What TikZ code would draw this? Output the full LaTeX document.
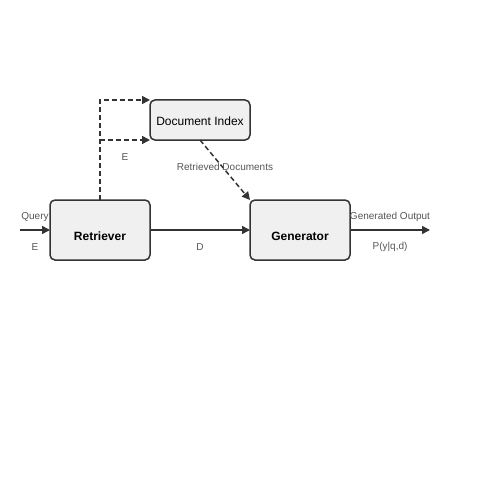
\documentclass[tikz,border=0pt]{standalone}
\usepackage{fontspec}
\setmainfont{Liberation Sans}
\usetikzlibrary{arrows.meta}
\definecolor{boxfill}{HTML}{F0F0F0}
\definecolor{edge}{HTML}{333333}
\definecolor{lbl}{HTML}{555555}
\begin{document}
\begin{tikzpicture}[x=1pt,y=-1pt,
  box/.style={draw=edge,fill=boxfill,line width=1.5pt,rounded corners=5pt,minimum width=100pt,inner sep=0pt,outer sep=0pt},
  boxtxt/.style={inner sep=0pt,font=\fontsize{12}{14}\selectfont\bfseries},
  conn/.style={draw=edge,line width=1.5pt,-{Triangle[length=8pt,width=8pt]}},
  dconn/.style={conn,dash pattern=on 5pt off 3pt},
  lab/.style={text=lbl,font=\fontsize{10}{12}\selectfont,inner sep=0pt}]
\useasboundingbox (0,0) rectangle (500,500);
\node[box,minimum height=60pt] (ret) at (100,230) {};
\node[boxtxt] (rett) at (100,236) {Retriever};
\node[box,minimum height=60pt] (gen) at (300,230) {};
\node[boxtxt] (gent) at (300,236) {Generator};
\node[box,minimum height=40pt] (idx) at (200,120) {};
\node[boxtxt,font=\fontsize{12}{14}\selectfont] (idxt) at (200,121) {Document Index};
\coordinate (qin) at (20,230);
\coordinate (out) at (430,230);
\coordinate (c1) at (100,100);
\coordinate (c2) at (100,140);
\draw[conn] (qin) -- (ret.west);
\draw[conn] (ret.east) -- (gen.west);
\draw[conn] (gen.east) -- (out);
\draw[dconn] (ret.north) -- (c1) -- (c1 -| idx.west);
\draw[dconn] (c2) -- (c2 -| idx.west);
\draw[dconn] (idx.south) -- (gen.north west);
\node[lab] (lq) at (35,217) {Query};
\node[lab] (le1) at (35,247) {E};
\node[lab] (ld) at (200,247) {D};
\node[lab] (le2) at (125,157) {E};
\node[lab] (lrd) at (225,167) {Retrieved Documents};
\node[lab] (lgo) at (390,217) {Generated Output};
\node[lab] (lp) at (390,247) {P(y|q,d)};
\end{tikzpicture}
\end{document}
